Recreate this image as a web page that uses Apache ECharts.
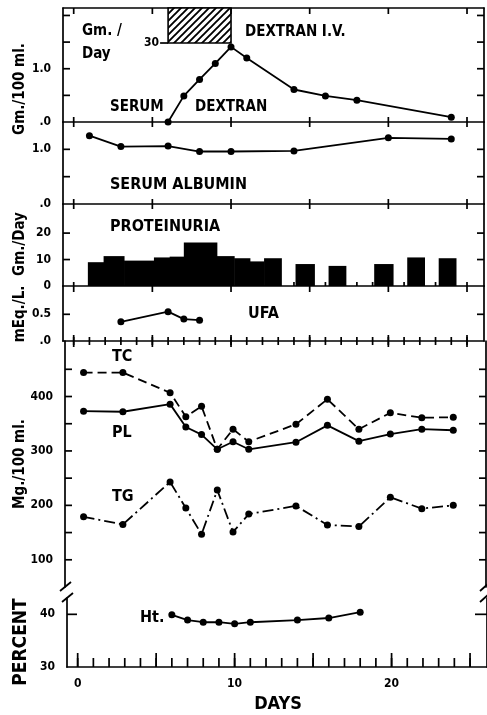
<!DOCTYPE html>
<html><head><meta charset="utf-8">
<script src="https://cdn.jsdelivr.net/npm/echarts@6/dist/echarts.min.js"></script>
<style>html,body{margin:0;padding:0;background:#fff}#c{width:487px;height:715px}</style>
</head><body><div id="c"></div>
<script>
// ---------------- data ----------------
const dextranDays = [6, 7, 8, 9, 10, 11, 14, 16, 18, 24];
const dextranValues = [0, 0.49, 0.80, 1.10, 1.41, 1.20, 0.61, 0.49, 0.41, 0.09];
const ivStart = [6];
const ivEnd = [10];
const ivDose = [30];
const albuminDays = [1, 3, 6, 8, 10, 14, 20, 24];
const albuminValues = [1.25, 1.05, 1.06, 0.96, 0.96, 0.97, 1.21, 1.19];
const protStart = [0.9, 1.9, 3.2, 5.1, 6.1, 7.0, 9.1, 10.2, 11.2, 12.1, 14.1, 16.2, 19.1, 21.2, 23.2];
const protEnd   = [1.9, 3.2, 5.1, 6.1, 7.0, 9.1, 10.2, 11.2, 12.1, 13.2, 15.3, 17.3, 20.3, 22.3, 24.3];
const protValues = [9.0, 11.3, 9.6, 10.8, 11.1, 16.4, 11.3, 10.5, 9.3, 10.5, 8.3, 7.6, 8.3, 10.8, 10.5];
const ufaDays = [3, 6, 7, 8];
const ufaValues = [0.36, 0.55, 0.41, 0.39];
const lipidDays = [0.5, 3, 6, 7, 8, 9, 10, 11, 14, 16, 18, 20, 22, 24];
const tcValues = [444, 444, 407, 363, 382, 303, 340, 317, 349, 395, 340, 370, 361, 362];
const plValues = [373, 372, 386, 344, 330, 303, 317, 303, 316, 347, 318, 331, 340, 338];
const tgValues = [179, 165, 243, 195, 147, 228, 151, 184, 199, 164, 161, 215, 194, 200];
const htDays = [6, 7, 8, 9, 10, 11, 14, 16, 18];
const htValues = [39.9, 38.9, 38.5, 38.5, 38.2, 38.5, 38.9, 39.3, 40.4];

// tick positions / labels
const dayTicks = [0,1,2,3,4,5,6,7,8,9,10,11,12,13,14,15,16,17,18,19,20,21,22,23,24,25];
const fiveDayTicks = [0, 5, 10, 15, 20, 25];
const dayLabels = [0, 10, 20];
const dextranTicks = [0.5, 1, 1.5, 2];
const dextranLabels = [0, 1];
const albuminTicks = [0.5, 1];
const albuminLabels = [0, 1];
const protTicks = [10, 20];
const protLabels = [0, 10, 20];
const ufaTicks = [0.5];
const ufaLabels = [0, 0.5];
const lipidTicks = [100, 150, 200, 250, 300, 350, 400, 450];
const lipidLabels = [100, 200, 300, 400];
const htTicks = [40];
const htLabels = [30, 40];

// ---------------- styling ----------------
const INK = '#000';
const LBL = '"DejaVu Sans Condensed", "DejaVu Sans", sans-serif';
const TXT = '"DejaVu Sans Condensed", "DejaVu Sans", sans-serif';
const XMIN = -0.68, XMAX = 26.08;
const TW = 1.7; // tick stroke width

const hatch = document.createElement('canvas');
hatch.width = 7; hatch.height = 7;
(function(){
  const g = hatch.getContext('2d');
  g.fillStyle = '#fff'; g.fillRect(0,0,7,7);
  g.strokeStyle = '#000'; g.lineWidth = 1.9; g.lineCap = 'square';
  g.beginPath();
  g.moveTo(-1, 8); g.lineTo(8, -1);
  g.moveTo(-2, 2); g.lineTo(2, -2);
  g.moveTo(5, 9); g.lineTo(9, 5);
  g.stroke();
})();

const grids = [
  {left: 63, top: 8,   width: 421, height: 114},
  {left: 63, top: 122, width: 421, height: 82},
  {left: 63, top: 204, width: 421, height: 82},
  {left: 63, top: 286, width: 421, height: 55},
  {left: 65, top: 341, width: 421, height: 246},
  {left: 67, top: 598, width: 421, height: 69}
];
const yExt = [[0, 2.14], [0, 1.5], [0, 31], [0, 1.03], [50, 502], [30, 43.1]];

function xa(gi, pos, line, extra) {
  return Object.assign({
    type: 'value', gridIndex: gi, position: pos, min: XMIN, max: XMAX,
    axisLine: {show: line, onZero: false, lineStyle: {color: INK, width: 1.7}},
    splitLine: {show: false}, axisTick: {show: false}, axisLabel: {show: false}
  }, extra || {});
}
function ya(gi, pos, labels, fmt) {
  const ax = {
    type: 'value', gridIndex: gi, position: pos, min: yExt[gi][0], max: yExt[gi][1],
    axisLine: {show: true, onZero: false, lineStyle: {color: INK, width: 1.7}},
    splitLine: {show: false}, axisTick: {show: false}, axisLabel: {show: false}
  };
  if (labels) {
    ax.axisLabel = {show: true, customValues: labels.slice(), formatter: fmt, margin: 12,
      color: INK, fontFamily: LBL, fontWeight: 'bold', fontSize: 12};
  }
  return ax;
}
const dotFmt = v => (v === 0 ? '.0' : (v === 1 ? '1.0' : String(v)));

const xAxes = [
  xa(0, 'top', true),        // 0
  xa(0, 'bottom', true),     // 1
  xa(1, 'bottom', true),     // 2
  xa(2, 'bottom', true),     // 3
  xa(3, 'bottom', true),     // 4
  xa(4, 'bottom', false),    // 5
  xa(5, 'bottom', true, {    // 6
    axisLabel: {show: true, customValues: dayLabels.slice(), margin: 11, color: INK, fontFamily: LBL, fontWeight: 'bold', fontSize: 12}
  })
];
const XI = [1, 2, 3, 4, 5, 6];

const yAxes = [
  ya(0, 'left', dextranLabels, dotFmt),   // 0
  ya(0, 'right'),                         // 1
  ya(1, 'left', albuminLabels, dotFmt),   // 2
  ya(1, 'right'),                         // 3
  ya(2, 'left', protLabels, v => String(v)), // 4
  ya(2, 'right'),                         // 5
  ya(3, 'left', ufaLabels, v => (v === 0 ? '.0' : String(v))), // 6
  ya(3, 'right'),                         // 7
  ya(4, 'left', lipidLabels, v => String(v)), // 8
  ya(4, 'right'),                         // 9
  ya(5, 'left', htLabels, v => String(v)), // 10
  ya(5, 'right'),                         // 11
  {type: 'value', gridIndex: 0, position: 'right', inverse: true, min: 0, max: 97.7, show: false,
   axisLine: {show: false, onZero: false}}  // 12 dose scale (Gm./Day), 0 at the top
];
const YI = [0, 2, 4, 6, 8, 10];

function pts(xs, ys) { return xs.map((x, i) => [x, ys[i]]); }
function lineSeries(name, gi, data, type) {
  return {
    type: 'line', name: name, xAxisIndex: XI[gi], yAxisIndex: YI[gi], data: data,
    symbol: 'circle', symbolSize: 7, silent: true, animation: false,
    itemStyle: {color: INK},
    lineStyle: {color: INK, width: 1.8, type: type || 'solid'}
  };
}

// tick marks as thin filled bars, positioned through each panel's scales
function xTicks(gi, vals, atTop, up, down) {
  const edge = atTop ? yExt[gi][1] : yExt[gi][0];
  return {
    type: 'custom', xAxisIndex: XI[gi], yAxisIndex: YI[gi], silent: true, animation: false, clip: false, z: 5,
    data: vals.map(v => [v, edge]),
    renderItem: function (params, api) {
      const p = api.coord([api.value(0), api.value(1)]);
      return {type: 'rect', shape: {x: p[0] - TW / 2, y: p[1] - up, width: TW, height: up + down},
              style: {fill: INK}};
    }
  };
}
function yTicks(gi, vals, len, rightLen) {
  const rl = rightLen == null ? len : rightLen;
  return {
    type: 'custom', xAxisIndex: XI[gi], yAxisIndex: YI[gi], silent: true, animation: false, clip: false, z: 5,
    data: vals.map(v => [XMIN, v]),
    renderItem: function (params, api) {
      const a = api.coord([XMIN, api.value(1)]);
      const b = api.coord([XMAX, api.value(1)]);
      return {type: 'group', children: [
        {type: 'rect', shape: {x: a[0], y: a[1] - TW / 2, width: len, height: TW}, style: {fill: INK}},
        {type: 'rect', shape: {x: b[0] - rl, y: b[1] - TW / 2, width: rl, height: TW}, style: {fill: INK}}
      ]};
    }
  };
}

const series = [
  lineSeries('Serum dextran', 0, pts(dextranDays, dextranValues)),
  {
    type: 'custom', name: 'Dextran I.V.', xAxisIndex: 0, yAxisIndex: 12, animation: false, silent: true,
    data: ivStart.map((s, i) => [s, ivEnd[i], ivDose[i]]),
    renderItem: function (params, api) {
      const p0 = api.coord([api.value(0), 0]);
      const p1 = api.coord([api.value(1), api.value(2)]);
      return {type: 'group', children: [
        {type: 'rect', shape: {x: p0[0], y: p0[1], width: p1[0] - p0[0], height: p1[1] - p0[1]},
         style: {fill: {image: hatch, repeat: 'repeat'}, stroke: INK, lineWidth: 1.6}},
        {type: 'rect', shape: {x: p0[0] - 8, y: p1[1] - TW / 2, width: 8, height: TW}, style: {fill: INK}},
        {type: 'text', x: p0[0] - 9, y: p1[1], style: {text: String(api.value(2)), align: 'right', verticalAlign: 'middle',
          font: 'bold 12px ' + LBL, fill: INK}}
      ]};
    }
  },
  lineSeries('Serum albumin', 1, pts(albuminDays, albuminValues)),
  {
    type: 'custom', name: 'Proteinuria', xAxisIndex: XI[2], yAxisIndex: YI[2], animation: false, silent: true,
    data: protStart.map((s, i) => [s, protEnd[i], protValues[i]]),
    renderItem: function (params, api) {
      const a = api.coord([api.value(0), 0]);
      const b = api.coord([api.value(1), api.value(2)]);
      return {type: 'rect', shape: {x: a[0], y: b[1], width: b[0] - a[0] + 0.5, height: a[1] - b[1]},
              style: {fill: INK}};
    }
  },
  lineSeries('UFA', 3, pts(ufaDays, ufaValues)),
  lineSeries('TC', 4, pts(lipidDays, tcValues), [9, 5]),
  lineSeries('PL', 4, pts(lipidDays, plValues)),
  lineSeries('TG', 4, pts(lipidDays, tgValues), [11, 4, 2, 4]),
  lineSeries('Ht', 5, pts(htDays, htValues)),
  xTicks(0, fiveDayTicks, true, 0, 6),
  xTicks(0, fiveDayTicks, false, 5, 5),
  xTicks(1, fiveDayTicks, false, 5, 5),
  xTicks(2, dayTicks, false, 4, 0),
  xTicks(2, fiveDayTicks, false, 0, 6),
  xTicks(3, dayTicks, false, 4, 4),
  xTicks(3, fiveDayTicks, false, 6, 6),
  xTicks(5, dayTicks, false, 9, 0),
  xTicks(5, fiveDayTicks, false, 14, 0),
  yTicks(0, dextranTicks, 7),
  yTicks(1, albuminTicks, 7),
  yTicks(2, protTicks, 7),
  yTicks(3, ufaTicks, 7),
  yTicks(4, lipidTicks, 7),
  yTicks(5, htTicks, 10, 12)
];

function txt(t, x, y, size, opts) {
  return Object.assign({type: 'text', x: x, y: y, silent: true,
    style: Object.assign({text: t, font: 'bold ' + size + 'px ' + TXT, fill: INK, align: 'left', verticalAlign: 'middle'}, (opts && opts.style) || {})},
    opts && opts.rot ? {rotation: opts.rot} : {});
}
function seg(x1, y1, x2, y2, w) {
  return {type: 'polyline', silent: true, z: 10, shape: {points: [[x1, y1], [x2, y2]]},
          style: {stroke: INK, lineWidth: w || 1.6, fill: null}};
}
const R = Math.PI / 2;
const graphics = [
  txt('Gm. /', 82, 31, 15),
  txt('Day', 82, 54, 15),
  txt('DEXTRAN I.V.', 245, 32, 15),
  txt('SERUM', 110, 107, 15),
  txt('DEXTRAN', 195, 107, 15),
  txt('SERUM ALBUMIN', 110, 185, 16),
  txt('PROTEINURIA', 110, 227, 16),
  txt('UFA', 248, 314, 16),
  txt('TC', 112, 357, 16),
  txt('PL', 112, 433, 16),
  txt('TG', 112, 497, 16),
  txt('Ht.', 140, 618, 16),
  txt('DAYS', 278, 704, 18, {style: {align: 'center'}}),
  txt('Gm./100 ml.', 20, 89, 15, {rot: R, style: {align: 'center'}}),
  txt('Gm./Day', 20, 244, 15, {rot: R, style: {align: 'center'}}),
  txt('mEq./L.', 20, 314, 15, {rot: R, style: {align: 'center'}}),
  txt('Mg./100 ml.', 20, 464, 15, {rot: R, style: {align: 'center'}}),
  txt('PERCENT', 21, 642, 19, {rot: R, style: {align: 'center'}}),
  // axis break marks
  seg(60, 591, 71, 582, 1.8),
  seg(62, 602, 73, 593, 1.8),
  seg(480, 591, 489, 583, 1.8),
  seg(480, 602, 489, 594, 1.8)
];

const chart = echarts.init(document.getElementById('c'), null, {renderer: 'canvas'});
chart.setOption({
  backgroundColor: '#fff',
  animation: false,
  grid: grids,
  xAxis: xAxes,
  yAxis: yAxes,
  series: series,
  graphic: graphics
});
</script>
</body></html>
